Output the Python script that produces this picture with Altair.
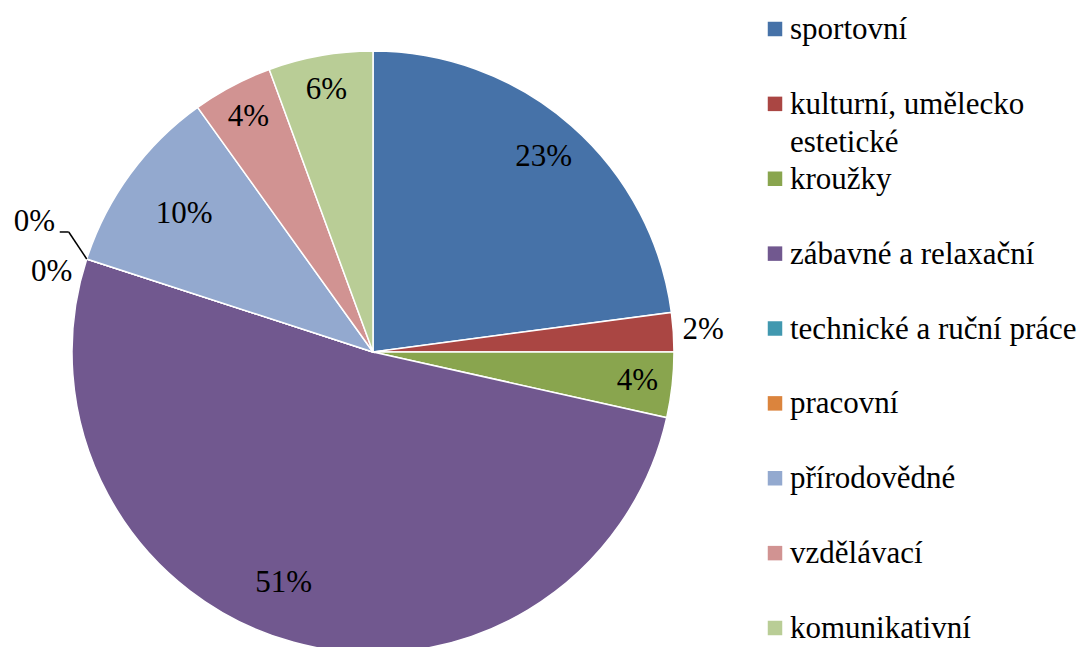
import altair as alt
import pandas as pd

categories = ["sportovní", "kulturní, umělecko\nestetické", "kroužky", "zábavné a relaxační",
              "technické a ruční práce", "pracovní", "přírodovědné", "vzdělávací", "komunikativní"]
values = [22.9, 2.1, 3.5, 51.5, 0.0, 0.0, 10.1, 4.3, 5.6]
labels = ["23%", "2%", "4%", "51%", "0%", "0%", "10%", "4%", "6%"]
colors = ["#4672A8", "#AA4643", "#89A54E", "#71588F", "#4198AF", "#DB843D", "#93A9CF", "#D19392", "#B9CD96"]

df = pd.DataFrame({"cat": categories, "val": values, "lab": labels, "idx": list(range(len(categories)))})

CX, CY, R = 365, 344, 301
FONT = "Liberation Serif"
FS = 31

color_scale = alt.Scale(domain=categories, range=colors)

base = alt.Chart(df).encode(
    theta=alt.Theta("val:Q", stack=True, scale=alt.Scale(range=[0, 6.283185307])),
    order=alt.Order("idx:Q"),
    color=alt.Color("cat:N", scale=color_scale, legend=None, sort=None),
)

pie = base.mark_arc(outerRadius=R, stroke="white", strokeWidth=1.5).encode(
    x=alt.value(CX), y=alt.value(CY)
)


def label_layer(test, **kw):
    return base.mark_text(font=FONT, fontSize=FS, align="center", baseline="middle", **kw).encode(
        x=alt.value(CX), y=alt.value(CY),
        text="lab:N",
        color=alt.value("black"),
        opacity=alt.condition(test, alt.value(1), alt.value(0)),
    )


lab_small = label_layer("datum.val >= 3 && datum.val < 8", radius=266)
lab_mid = label_layer("datum.val >= 8 && datum.val < 20", radius=234)
lab_23 = label_layer("datum.val >= 20 && datum.val < 40", radius=259)
lab_big = label_layer("datum.val >= 40", radius=248, dx=-24, dy=-8)
lab_out = label_layer("datum.val > 0 && datum.val < 3", radius=331)
zero_a = label_layer("datum.idx == 4", radius=336, dx=-19, dy=-26)
zero_b = label_layer("datum.idx == 5", radius=318, dx=-19, dy=18)

# leader line for the zero slice
cum = alt.Chart(df).transform_window(
    cs="sum(val)", sort=[alt.SortField("idx")]
).transform_filter("datum.idx == 4").transform_calculate(
    ang="2*PI*datum.cs/100",
    px=f"{CX} + {R}*sin(datum.ang)",
    py=f"{CY} - {R}*cos(datum.ang)",
    qx="datum.px - 18",
    qy="datum.py - 27",
    sx="datum.qx - 9",
)
lead1 = cum.mark_rule(color="black", strokeWidth=1.5).encode(
    x=alt.X("px:Q", scale=None), y=alt.Y("py:Q", scale=None),
    x2="qx:Q", y2="qy:Q",
)
lead2 = cum.mark_rule(color="black", strokeWidth=1.5).encode(
    x=alt.X("qx:Q", scale=None), y=alt.Y("qy:Q", scale=None),
    x2="sx:Q", y2="qy:Q",
)

# custom legend
leg_y = alt.Y("idx:Q", scale=alt.Scale(domain=[0, 8], range=[21, 620]), axis=None)
leg_sq = alt.Chart(df).mark_square(size=210, opacity=1).encode(
    x=alt.value(767),
    y=leg_y,
    color=alt.Color("cat:N", scale=color_scale, legend=None, sort=None),
)
leg_tx = alt.Chart(df).mark_text(font=FONT, fontSize=FS, color="black", align="left",
                                 baseline="alphabetic", dy=10, lineBreak="\n", lineHeight=38).encode(
    x=alt.value(782),
    y=leg_y,
    text="cat:N",
)

chart = alt.layer(pie, lab_small, lab_mid, lab_23, lab_big, lab_out, zero_a, zero_b,
                  lead1, lead2, leg_sq, leg_tx).properties(
    width=1073, height=639,
    autosize=alt.AutoSizeParams(type="none"),
    padding=0,
).configure_view(stroke=None)

chart.save("out.html", embed_options={"renderer": "svg", "actions": False})
